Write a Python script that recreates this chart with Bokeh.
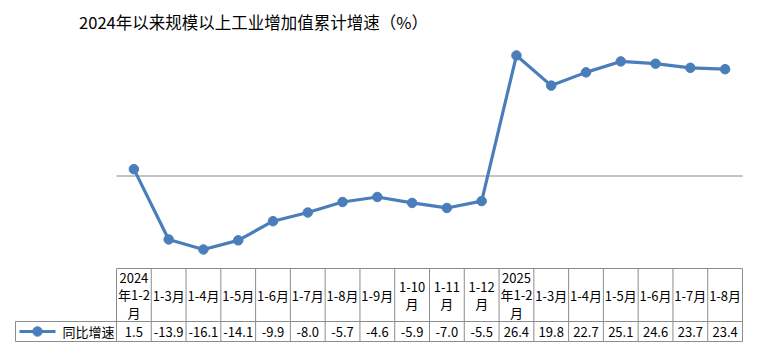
from bokeh.plotting import figure
from bokeh.models import Range1d
from bokeh.core.properties import value
from bokeh.embed import file_html
from bokeh.resources import INLINE

# ---- data ----
title_text = "2024年以来规模以上工业增加值累计增速（%）"
series_name = "同比增速"
categories = ["2024\n年1-2\n月", "1-3月", "1-4月", "1-5月", "1-6月", "1-7月", "1-8月", "1-9月",
              "1-10\n月", "1-11\n月", "1-12\n月", "2025\n年1-2\n月", "1-3月", "1-4月", "1-5月",
              "1-6月", "1-7月", "1-8月"]
values = [1.5, -13.9, -16.1, -14.1, -9.9, -8.0, -5.7, -4.6, -5.9, -7.0, -5.5,
          26.4, 19.8, 22.7, 25.1, 24.6, 23.7, 23.4]

# ---- layout helpers (pixel -> data) ----
W, H = 764, 354
LEFT, RIGHT = 116, 742
N = len(categories)
COLW = (RIGHT - LEFT) / N
K = 4.565      # px per unit
Y0 = 175.5     # px of zero

def dx(px):
    return (px - LEFT) / COLW - 0.5

def dy(py):
    return (Y0 - py) / K

FONT = value("Noto Sans CJK SC")
BLUE = "#4A7EBB"
GRID = "#868686"
BORDER = "#8C8C8C"

p = figure(width=W, height=H, x_range=Range1d(dx(0), dx(W)), y_range=Range1d(dy(H), dy(0)),
           x_axis_type=None, y_axis_type=None, toolbar_location=None, min_border=0,
           outline_line_color=None, output_backend="svg", background_fill_color="white",
           border_fill_color="white")
p.grid.visible = False

# title
p.text(x=[dx(253)], y=[dy(21)], text=[title_text], text_font=FONT, text_font_size="16.5px",
       text_align="center", text_baseline="middle", text_color="#000000")

# zero line
p.segment(x0=[-0.5], y0=[0], x1=[N - 0.5], y1=[0], line_color=GRID, line_width=1)

# series
idx = list(range(N))
p.line(idx, values, line_color=BLUE, line_width=3.2)
p.scatter(idx, values, size=9.5, fill_color=BLUE, line_color=BLUE)

# table grid
T_TOP, T_MID, T_BOT = 268, 321, 341
xb = [i - 0.5 for i in range(N + 1)]
p.segment(x0=xb, y0=[dy(T_TOP)] * len(xb), x1=xb, y1=[dy(T_BOT)] * len(xb),
          line_color=BORDER, line_width=1)
p.segment(x0=[-0.5, dx(15), dx(15), dx(15)], y0=[dy(T_TOP), dy(T_MID), dy(T_BOT), dy(T_MID)],
          x1=[N - 0.5, N - 0.5, N - 0.5, dx(15)], y1=[dy(T_TOP), dy(T_MID), dy(T_BOT), dy(T_BOT)],
          line_color=BORDER, line_width=1)

# table header labels
p.text(x=idx, y=[dy((T_TOP + T_MID) / 2)] * N, text=categories, text_font=FONT,
       text_font_size="13px", text_align="center", text_baseline="middle",
       text_line_height=0.92, text_color="#000000")

# table values
p.text(x=idx, y=[dy((T_MID + T_BOT) / 2)] * N, text=[f"{v:.1f}" for v in values],
       text_font=FONT, text_font_size="13px", text_align="center", text_baseline="middle",
       text_color="#000000")

# legend cell
ly = dy((T_MID + T_BOT) / 2)
p.line([dx(19), dx(55)], [ly, ly], line_color=BLUE, line_width=3.2)
p.scatter([dx(37)], [ly], size=9.5, fill_color=BLUE, line_color=BLUE)
p.text(x=[dx(62)], y=[ly], text=[series_name], text_font=FONT, text_font_size="13px",
       text_align="left", text_baseline="middle", text_color="#000000")

open("out.html", "w").write(file_html(p, INLINE))
